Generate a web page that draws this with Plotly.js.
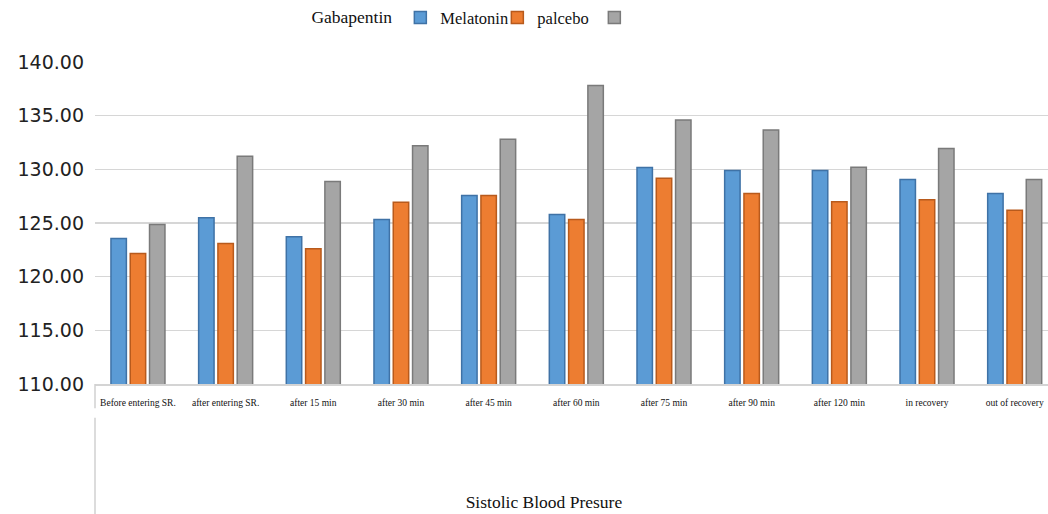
<!DOCTYPE html>
<html>
<head>
<meta charset="utf-8">
<script src="https://cdn.plot.ly/plotly-3.0.1.min.js"></script>
<style>
html,body{margin:0;padding:0;background:#fff;}
#chart{width:1048px;height:514px;}
</style>
</head>
<body>
<div id="chart"></div>
<script>
// Data
var categories = ["Before entering SR.", "after entering SR.", "after 15 min", "after 30 min", "after 45 min",
  "after 60 min", "after 75 min", "after 90 min", "after 120 min", "in recovery", "out of recovery"];
var blueValues   = [123.55, 125.50, 123.73, 125.32, 127.56, 125.80, 130.17, 129.90, 129.90, 129.06, 127.76];
var orangeValues = [122.15, 123.10, 122.60, 126.94, 127.56, 125.32, 129.18, 127.76, 126.98, 127.17, 126.18];
var grayValues   = [124.85, 131.23, 128.86, 132.19, 132.80, 137.80, 134.59, 133.67, 130.20, 131.95, 129.06];
var seriesNames  = ["Melatonin", "palcebo", " "];
var legendTitle  = "Gabapentin";
var axisTitle    = "Sistolic Blood Presure";

var serif = "Liberation Serif, Times New Roman, serif";

function bar(name, ys, fill, edge) {
  return {
    type: "bar", name: name, x: categories, y: ys,
    marker: {color: fill, line: {color: edge, width: 1.5}},
    hoverinfo: "skip"
  };
}

var data = [
  bar(seriesNames[0], blueValues, "#5b9bd5", "#3f72a6"),
  bar(seriesNames[1], orangeValues, "#ed7d31", "#b85a1c"),
  bar(seriesNames[2], grayValues, "#a5a5a5", "#7a7a7a")
];

var layout = {
  width: 1048, height: 514,
  margin: {l: 95, r: 0, t: 62, b: 130, autoexpand: false},
  paper_bgcolor: "#fff", plot_bgcolor: "#fff",
  barmode: "group", bargap: 0.34, bargroupgap: 0.2,
  showlegend: true,
  title: {
    text: axisTitle, xref: "container", x: 0.519, xanchor: "center",
    yref: "container", y: 0.024, yanchor: "middle",
    font: {family: serif, size: 17.5, color: "#111"}
  },
  legend: {
    orientation: "h", x: 0.225, xanchor: "left", y: 1.137, yanchor: "middle",
    title: {text: legendTitle, side: "left", font: {family: serif, size: 17.5, color: "#111"}},
    font: {family: serif, size: 16.5, color: "#111"},
    itemwidth: 30, entrywidth: 52, traceorder: "normal", bgcolor: "rgba(0,0,0,0)"
  },
  xaxis: {
    type: "category", range: [-0.49, 10.38],
    showgrid: false, zeroline: false,
    showline: true, linecolor: "#d4d4d4", linewidth: 1.5,
    ticks: "outside", ticklen: 9, tickcolor: "rgba(0,0,0,0)",
    tickangle: 0,
    tickfont: {family: serif, size: 9.5, color: "#111"},
    automargin: false, fixedrange: true
  },
  yaxis: {
    range: [110, 140], dtick: 5, tick0: 110, tickformat: ".2f",
    showgrid: true, gridcolor: "#d6d6d6", gridwidth: 1.5,
    zeroline: false, showline: false, ticks: "",
    tickfont: {family: "DejaVu Sans, Verdana, sans-serif", size: 19, color: "#222"},
    ticklabelstandoff: 10,
    automargin: false, fixedrange: true
  },
  shapes: [
    {type: "line", xref: "paper", yref: "paper", x0: 0, x1: 0, y0: 0, y1: -0.075,
     line: {color: "#d0d0d0", width: 1.5}},
    {type: "line", xref: "paper", yref: "paper", x0: 0, x1: 0, y0: -0.105, y1: -0.41,
     line: {color: "#d0d0d0", width: 1.5}}
  ]
};

Plotly.newPlot("chart", data, layout, {displayModeBar: false, staticPlot: true});
</script>
</body>
</html>
